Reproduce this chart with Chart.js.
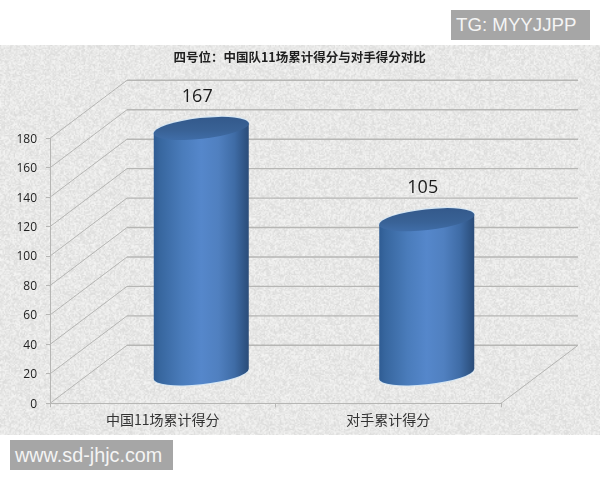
<!DOCTYPE html>
<html>
<head>
<meta charset="utf-8">
<title>四号位</title>
<script src="https://cdn.jsdelivr.net/npm/chart.js@4/dist/chart.umd.min.js"></script>
<style>
    html, body { margin: 0; padding: 0; background: #fff; }
    #wrap { position: relative; width: 600px; height: 480px; overflow: hidden; }
    canvas { position: absolute; left: 0; top: 0; }
    .mark {
        position: absolute; background: #a6a6a6; color: #f4f4f4;
        font-family: "Liberation Sans", Arial, sans-serif;
        height: 30px; line-height: 30px; box-sizing: border-box;
    }
    #tg { left: 451px; top: 10px; width: 139px; font-size: 18.7px; padding-left: 5px; }
    #site { left: 10px; top: 440px; width: 163px; font-size: 19.8px; padding-left: 5px; }
</style>
</head>
<body>
<div id="wrap">
    <canvas id="chart" width="600" height="480"></canvas>
    <div class="mark" id="tg">TG: MYYJJPP</div>
    <div class="mark" id="site">www.sd-jhjc.com</div>
</div>
<script>
const chartTitle = '四号位：中国队11场累计得分与对手得分对比';
const categories = ['中国11场累计得分', '对手累计得分'];
const scores = [167, 105];
const axisMax = 180;
const axisStep = 20;

const latin = '"Open Sans", sans-serif';
const cjk = '"Noto Sans CJK SC", sans-serif';
const lineColor = '#b6b6b4';

// how far the back wall is pushed from the front axes
const depthX = 77;
const depthY = -58;

function makeTexture() {
    const w = 480, h = 312;
    const tex = document.createElement('canvas');
    tex.width = w;
    tex.height = h;
    const c = tex.getContext('2d');
    const img = c.createImageData(w, h);
    let seed = 12345;
    for (let i = 0; i < w * h; i++) {
        seed = (seed * 1103515245 + 12345) & 0x7fffffff;
        const v = 232 + ((seed >> 16) % 27) - 13;
        img.data[i * 4] = v;
        img.data[i * 4 + 1] = v;
        img.data[i * 4 + 2] = v - 1;
        img.data[i * 4 + 3] = 255;
    }
    c.putImageData(img, 0, 0);
    return tex;
}
const texture = makeTexture();

const panel = {
    id: 'panel',
    beforeDraw(chart) {
        const ctx = chart.ctx;
        ctx.save();
        ctx.imageSmoothingEnabled = true;
        ctx.drawImage(texture, 0, 45, 600, 390);
        ctx.fillStyle = '#1f1f1f';
        ctx.font = 'bold 12.5px ' + cjk;
        ctx.textAlign = 'center';
        ctx.textBaseline = 'middle';
        ctx.fillText(chartTitle, 299.6, 57.5);
        ctx.restore();
    }
};

const walls = {
    id: 'walls',
    beforeDatasetsDraw(chart) {
        const ctx = chart.ctx;
        const y = chart.scales.y;
        const x0 = chart.chartArea.left;
        const x1 = chart.chartArea.right;
        ctx.save();
        ctx.strokeStyle = lineColor;
        y.ticks.forEach(tick => {
            const py = y.getPixelForValue(tick.value);
            ctx.lineWidth = 1;
            ctx.beginPath();
            ctx.moveTo(x0, py);
            ctx.lineTo(x0 + depthX, py + depthY);
            ctx.stroke();
            ctx.lineWidth = 1.4;
            ctx.beginPath();
            ctx.moveTo(x0 + depthX, py + depthY);
            ctx.lineTo(x1 + depthX, py + depthY);
            ctx.stroke();
        });
        // right edge of the floor
        const floor = y.getPixelForValue(0);
        ctx.lineWidth = 1;
        ctx.beginPath();
        ctx.moveTo(x1, floor);
        ctx.lineTo(x1 + depthX, floor + depthY);
        ctx.stroke();
        ctx.restore();
    }
};

const tilt = -6.3 * Math.PI / 180;

const cylinders = {
    id: 'cylinders',
    afterDatasetsDraw(chart) {
        const ctx = chart.ctx;
        const meta = chart.getDatasetMeta(0);
        meta.data.forEach((bar, i) => {
            const cx = bar.x + depthX / 2;
            const top = bar.y + depthY / 2;
            const base = bar.base + depthY / 2;
            const a = bar.width / 2 + 0.3;
            const b = 10.4;
            const side = bar.width / 2;
            // left and right extremes of the tilted ellipse sit 5px off its centre
            const edge = 5;
            const t = 0.024;

            ctx.save();
            // thin light fringe round lid and foot
            ctx.fillStyle = '#d4e5f3';
            ctx.beginPath();
            ctx.ellipse(cx, top - 0.6, a + 0.5, b + 0.6, tilt, 0, Math.PI * 2);
            ctx.fill();
            ctx.beginPath();
            ctx.ellipse(cx, base + 0.6, a + 0.3, b + 0.6, tilt, 0, Math.PI * 2);
            ctx.fill();

            const grad = ctx.createLinearGradient(cx - side, 0, cx + side, 0);
            grad.addColorStop(0, '#2f5c93');
            grad.addColorStop(0.06, '#37669e');
            grad.addColorStop(0.3, '#4a7cbb');
            grad.addColorStop(0.5, '#5587cb');
            grad.addColorStop(0.68, '#5080c0');
            grad.addColorStop(0.85, '#3f6ca6');
            grad.addColorStop(0.96, '#2f5484');
            grad.addColorStop(1, '#2b4c78');

            ctx.beginPath();
            ctx.moveTo(cx - side, top + edge);
            ctx.lineTo(cx - side, base + edge);
            ctx.ellipse(cx, base, a, b, tilt, Math.PI + t, t, true);
            ctx.lineTo(cx + side, top - edge);
            ctx.closePath();
            ctx.fillStyle = grad;
            ctx.fill();

            const lid = ctx.createLinearGradient(0, top - b, 0, top + b);
            lid.addColorStop(0, '#345a8c');
            lid.addColorStop(0.6, '#396296');
            lid.addColorStop(1, '#3f6ca6');
            ctx.beginPath();
            ctx.ellipse(cx, top, a, b, tilt, 0, Math.PI * 2);
            ctx.fillStyle = lid;
            ctx.fill();

            // value over the bar
            ctx.fillStyle = '#1a1a1a';
            ctx.font = '18px ' + latin;
            ctx.textAlign = 'center';
            ctx.textBaseline = 'middle';
            ctx.fillText(String(scores[i]), cx - 4, top - 31.5);
            ctx.restore();
        });
    }
};

new Chart(document.getElementById('chart').getContext('2d'), {
    type: 'bar',
    data: {
        labels: categories,
        datasets: [{
            data: scores,
            backgroundColor: 'rgba(0,0,0,0)',
            barPercentage: 95 / 225.5,
            categoryPercentage: 1
        }]
    },
    plugins: [panel, walls, cylinders],
    options: {
        responsive: false,
        animation: false,
        devicePixelRatio: 1,
        layout: { padding: { left: 0, right: 99, top: 138.3, bottom: 0 } },
        plugins: {
            legend: { display: false },
            tooltip: { enabled: false }
        },
        scales: {
            x: {
                afterFit(scale) { scale.height = 76.7; },
                border: { color: lineColor },
                grid: { drawOnChartArea: false, color: lineColor, tickLength: 4 },
                ticks: {
                    color: '#333',
                    padding: 4,
                    maxRotation: 0,
                    font: { family: cjk, size: 14 }
                }
            },
            y: {
                min: 0,
                max: axisMax,
                afterFit(scale) { scale.width = 50; },
                border: { color: lineColor },
                grid: { drawOnChartArea: false, color: lineColor, tickLength: 4 },
                ticks: {
                    stepSize: axisStep,
                    color: '#222',
                    padding: 9,
                    labelOffset: 1,
                    font: { family: latin, size: 12 }
                }
            }
        }
    }
});
</script>
</body>
</html>
